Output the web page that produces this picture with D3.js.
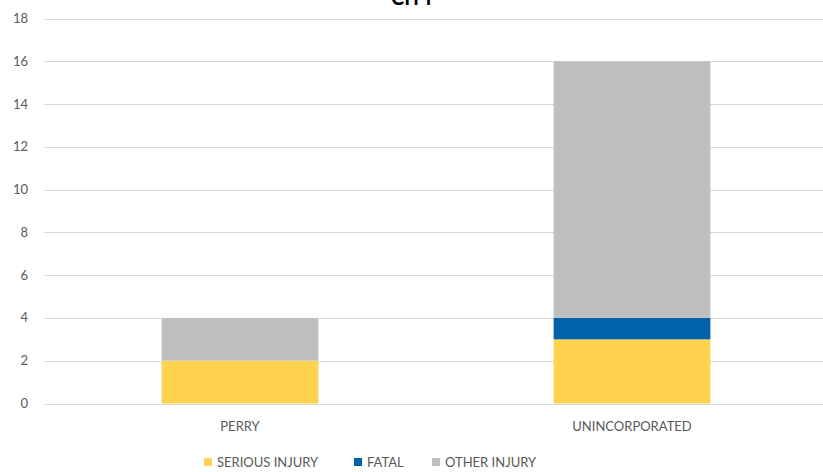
<!DOCTYPE html>
<html>
<head>
<meta charset="utf-8">
<script src="https://cdn.jsdelivr.net/npm/d3@7"></script>
<style>
  body { margin: 0; background: #fff; }
  svg { display: block; font-family: Lato, "Open Sans", sans-serif; }
</style>
</head>
<body>
<svg class="main" width="823" height="472"></svg>
<script>
var CATEGORIES = ["PERRY", "UNINCORPORATED"];
var SERIES = ["SERIOUS INJURY", "FATAL", "OTHER INJURY"];
var SERIOUS = [2, 3];
var FATAL = [0, 1];
var OTHER = [2, 12];
var Y_TICKS = [0, 2, 4, 6, 8, 10, 12, 14, 16, 18];
var COLORS = ["#FFD34F", "#0062AA", "#BFBFBF"];

function buildRows() {
  return CATEGORIES.map(function(c, i) {
    return { cat: c, "SERIOUS INJURY": SERIOUS[i], "FATAL": FATAL[i], "OTHER INJURY": OTHER[i] };
  });
}

function drawChart() {
  var svg = d3.select("svg.main");
  var rows = buildRows();

  var x = d3.scaleBand()
    .domain(CATEGORIES)
    .range([44, 828])
    .paddingInner(0.6)
    .paddingOuter(0.3);

  var y = d3.scaleLinear()
    .domain([0, 18])
    .range([403.5, 18.5]);

  var color = d3.scaleOrdinal().domain(SERIES).range(COLORS);

  // gridlines
  svg.append("g")
    .selectAll("line")
    .data(Y_TICKS)
    .join("line")
    .attr("x1", 44)
    .attr("x2", 823)
    .attr("y1", function(d) { return Math.round(y(d)) + 0.5; })
    .attr("y2", function(d) { return Math.round(y(d)) + 0.5; })
    .attr("stroke", "#D9D9D9")
    .attr("stroke-width", 1);

  // y labels
  svg.append("g")
    .selectAll("text")
    .data(Y_TICKS)
    .join("text")
    .attr("x", 28)
    .attr("y", function(d) { return y(d); })
    .attr("dy", "0.35em")
    .attr("text-anchor", "end")
    .attr("fill", "#595959")
    .style("font-size", "13px")
    .text(function(d) { return d; });

  var stack = d3.stack().keys(SERIES);
  var layers = stack(rows);

  svg.append("g")
    .selectAll("g")
    .data(layers)
    .join("g")
    .attr("fill", function(d) { return color(d.key); })
    .selectAll("rect")
    .data(function(d) { return d; })
    .join("rect")
    .attr("x", function(d) { return x(d.data.cat); })
    .attr("width", x.bandwidth())
    .attr("y", function(d) { return y(d[1]); })
    .attr("height", function(d) { return y(d[0]) - y(d[1]); });

  // x labels
  svg.append("g")
    .selectAll("text")
    .data(CATEGORIES)
    .join("text")
    .attr("x", function(d) { return x(d) + x.bandwidth() / 2; })
    .attr("y", 431)
    .attr("text-anchor", "middle")
    .attr("fill", "#595959")
    .style("font-size", "13px")
    .text(function(d) { return d; });

  // title, clipped at the top edge as in the source
  svg.append("text")
    .attr("x", 413)
    .attr("y", 5)
    .attr("text-anchor", "middle")
    .attr("fill", "#000")
    .style("font-size", "20px")
    .style("font-weight", "bold")
    .text("CITY");

  // legend
  var legendX = [204, 354, 432];
  var legend = svg.append("g")
    .selectAll("g")
    .data(SERIES)
    .join("g")
    .attr("transform", function(d, i) { return "translate(" + legendX[i] + ",458)"; });

  legend.append("rect")
    .attr("width", 8)
    .attr("height", 8)
    .attr("fill", function(d) { return color(d); });

  legend.append("text")
    .attr("x", 13)
    .attr("y", 9)
    .attr("fill", "#595959")
    .style("font-size", "13px")
    .text(function(d) { return d; });
}

function main() {
  drawChart();
}

main();
</script>
</body>
</html>
